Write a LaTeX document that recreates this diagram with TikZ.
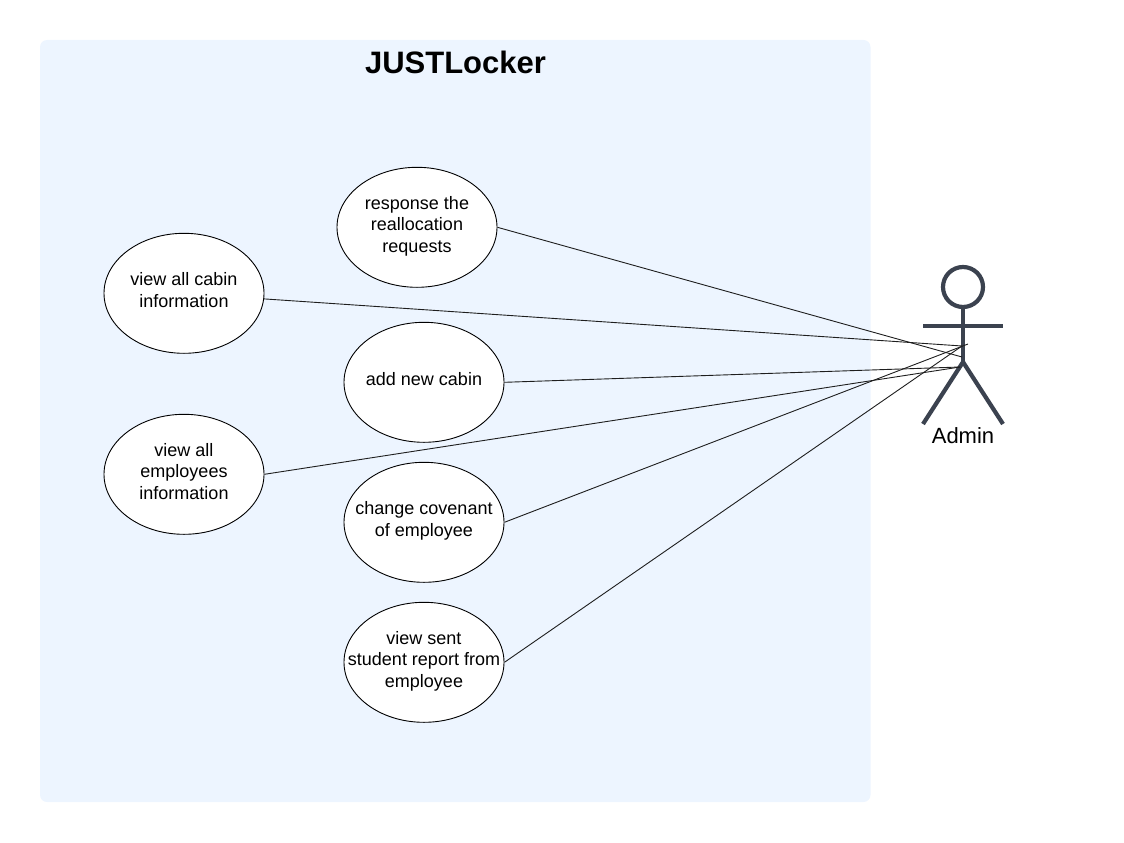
\documentclass[tikz,border=0pt]{standalone}
\usepackage{fontspec}
\setmainfont{Liberation Sans}
\usetikzlibrary{shapes.geometric}
\definecolor{panel}{RGB}{237,245,255}
\definecolor{slate}{RGB}{59,66,79}
\definecolor{ink}{RGB}{30,30,30}
\tikzset{
  usecase/.style={ellipse,draw=black,fill=white,line width=0.9pt,minimum width=160pt,minimum height=120pt,
    inner xsep=-30pt,inner ysep=0pt,text depth=6.5pt,align=center,font=\fontsize{18}{21.5}\selectfont},
  limb/.style={draw=slate,line width=4.2pt},
  assoc/.style={draw=ink,line width=0.9pt},
  sysbox/.style={fill=panel,rounded corners=7pt},
}
\begin{document}
\begin{tikzpicture}[x=1pt,y=-1pt]
  \useasboundingbox (0,0) rectangle (1124,843);
  \fill[sysbox] (40,40) rectangle (870.5,802);
  \node[font=\fontsize{31}{36}\selectfont\bfseries] (title) at (455.5,62) {JUSTLocker};
  % use cases
  \node[usecase] (response) at (417,227.3) {response the\\reallocation\\requests};
  \node[usecase] (cabins) at (184,293.3) {view all cabin\\information};
  \node[usecase] (addcabin) at (424,382.3) {add new cabin};
  \node[usecase] (employees) at (184,474.3) {view all\\employees\\information};
  \node[usecase] (covenant) at (424,522.3) {change covenant\\of employee};
  \node[usecase] (report) at (424,662.3) {view sent\\student report from\\employee};
  % actor
  \node[circle,limb,fill=none,minimum size=40pt,inner sep=0pt] (head) at (963,287) {};
  \coordinate (hip) at (963,362);
  \coordinate (handl) at (923,326);
  \coordinate (handr) at (1003,326);
  \coordinate (footl) at (923,424);
  \coordinate (footr) at (1003,424);
  \draw[limb] (head.south) -- (hip);
  \draw[limb] (handl) -- (handr);
  \draw[limb] (footl) -- (hip) -- (footr);
  \node[font=\fontsize{22}{26}\selectfont] (admin) at (963,435.5) {Admin};
  % associations
  \coordinate (e1) at (962,357);
  \coordinate (e2) at (962,346);
  \coordinate (e3) at (960,367);
  \coordinate (e4) at (968,344);
  \draw[assoc] (response.east) -- (e1);
  \draw[assoc] (cabins.-4) -- (e2);
  \draw[assoc] (addcabin.east) -- (e3);
  \draw[assoc] (employees.east) -- (e3);
  \draw[assoc] (covenant.east) -- (e4);
  \draw[assoc] (report.east) -- (e2);
\end{tikzpicture}
\end{document}
